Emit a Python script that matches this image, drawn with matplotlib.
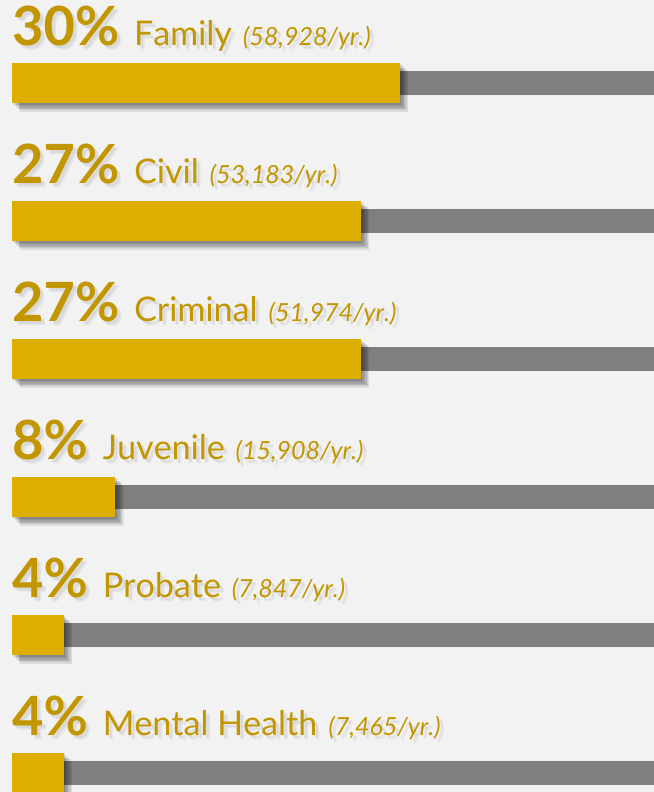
import matplotlib
matplotlib.use("Agg")
import matplotlib.pyplot as plt
import matplotlib.patheffects as pe
from matplotlib.transforms import offset_copy

categories = ["Family", "Civil", "Criminal", "Juvenile", "Probate", "Mental Health"]
percents = [30, 27, 27, 8, 4, 4]
per_year = ["58,928", "53,183", "51,974", "15,908", "7,847", "7,465"]

BG = "#f2f2f2"
GOLD = "#dbae00"
GOLD_TXT = "#c29600"
GRAY = "#7f7f7f"
FONT = "Lato"

fig = plt.figure(figsize=(6.54, 7.92), dpi=100, facecolor=BG)
ax = fig.add_axes([0, 0, 1, 1])
ax.set_facecolor(BG)
px_per_pct = 12.93
xl = -12 / px_per_pct
xr = (654 - 12) / px_per_pct
ax.set_xlim(xl, xr)
ax.set_ylim((792 - 83) / 138, -83 / 138)
ax.axis("off")

ypos = list(range(len(categories)))
shadow_bar = [pe.SimplePatchShadow(offset=(k, -k), shadow_rgbFace="black", alpha=0.09)
              for k in (6, 5, 4, 3, 2, 1)] + [pe.Normal()]
ax.barh(ypos, [xr] * len(ypos), height=0.167, color=GRAY, zorder=1)
bars = ax.barh(ypos, percents, height=0.297, color=GOLD, zorder=2)
for b in bars:
    b.set_path_effects(shadow_bar)

txt_shadow = [pe.SimplePatchShadow(offset=(k, -k), shadow_rgbFace="black", alpha=0.05)
              for k in (3, 2)] + [pe.Normal()]
fig.canvas.draw()
r = fig.canvas.get_renderer()
for i, (c, p, n) in enumerate(zip(categories, percents, per_year)):
    t1 = ax.text(0, i - 0.275, f"{p}%", fontsize=39, fontweight="bold", color=GOLD_TXT,
                 family=FONT, va="baseline", ha="left", path_effects=txt_shadow, zorder=3)
    w1 = t1.get_window_extent(r).width
    tr2 = offset_copy(ax.transData, fig=fig, x=w1 + 15, y=0, units="dots")
    t2 = ax.text(0, i - 0.275, c, fontsize=24.5, color=GOLD_TXT, family=FONT,
                 va="baseline", ha="left", transform=tr2, path_effects=txt_shadow, zorder=3)
    w2 = t2.get_window_extent(r).width
    tr3 = offset_copy(ax.transData, fig=fig, x=w1 + 15 + w2 + 11, y=0, units="dots")
    ax.text(0, i - 0.275, f"({n}/yr.)", fontsize=18, style="italic", color=GOLD_TXT,
            family=FONT, va="baseline", ha="left", transform=tr3, path_effects=txt_shadow, zorder=3)

fig.savefig("out.png", dpi=100, facecolor=BG)
